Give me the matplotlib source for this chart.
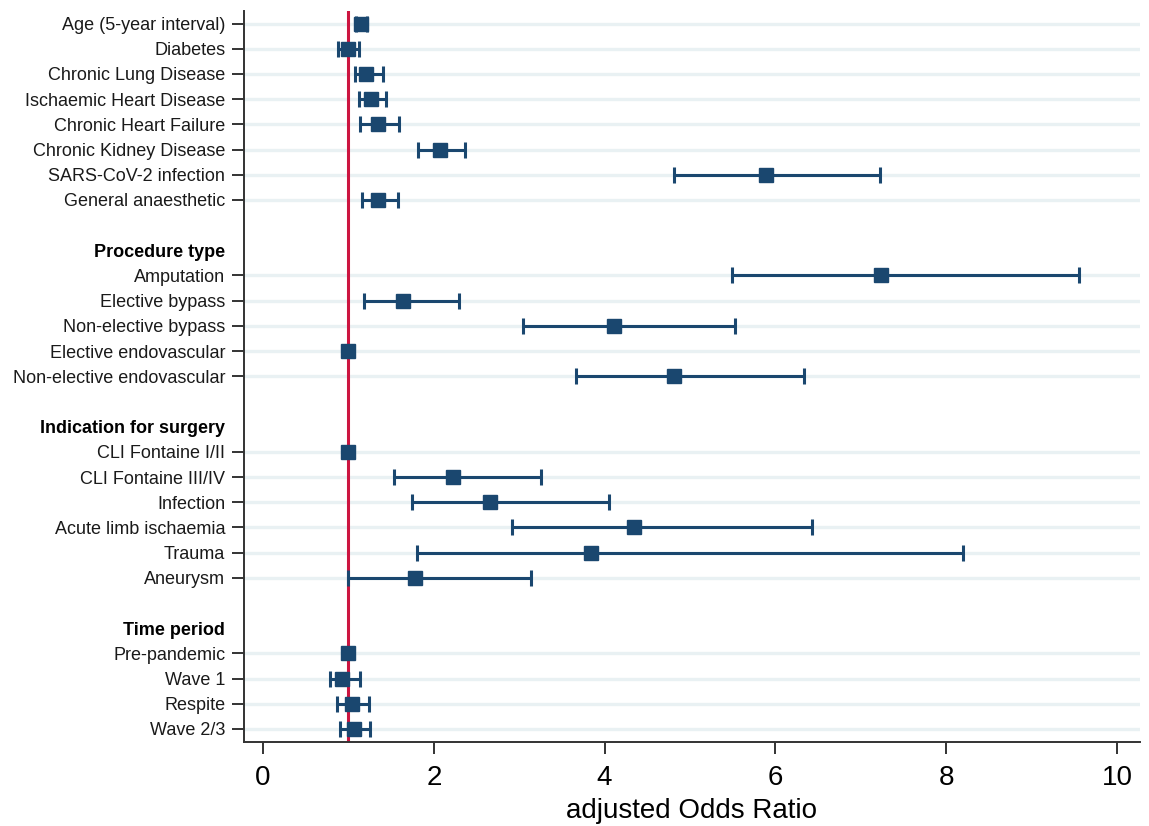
import matplotlib
matplotlib.use("Agg")
import matplotlib.pyplot as plt
import numpy as np

plt.rcParams["font.family"] = ["Liberation Sans", "DejaVu Sans"]

# Row labels, top to bottom; None marks an empty spacer row
labels = [
    "Age (5-year interval)", "Diabetes", "Chronic Lung Disease",
    "Ischaemic Heart Disease", "Chronic Heart Failure", "Chronic Kidney Disease",
    "SARS-CoV-2 infection", "General anaesthetic",
    None,
    "Procedure type",
    "Amputation", "Elective bypass", "Non-elective bypass",
    "Elective endovascular", "Non-elective endovascular",
    None,
    "Indication for surgery",
    "CLI Fontaine I/II", "CLI Fontaine III/IV", "Infection",
    "Acute limb ischaemia", "Trauma", "Aneurysm",
    None,
    "Time period",
    "Pre-pandemic", "Wave 1", "Respite", "Wave 2/3",
]
headers = ["Procedure type", "Indication for surgery", "Time period"]

# Estimates: adjusted odds ratio with 95% CI (NaN CI = reference category)
or_est = [1.15, 0.99, 1.21, 1.27, 1.35, 2.07, 5.89, 1.35,
          7.24, 1.64, 4.11, 1.00, 4.81,
          1.00, 2.23, 2.66, 4.34, 3.84, 1.78,
          1.00, 0.93, 1.04, 1.06]
ci_low = [1.09, 0.88, 1.08, 1.12, 1.13, 1.82, 4.81, 1.16,
          5.49, 1.18, 3.04, np.nan, 3.66,
          np.nan, 1.53, 1.74, 2.92, 1.80, 1.00,
          np.nan, 0.78, 0.87, 0.90]
ci_high = [1.22, 1.12, 1.40, 1.44, 1.59, 2.37, 7.22, 1.58,
           9.55, 2.29, 5.53, np.nan, 6.34,
           np.nan, 3.25, 4.05, 6.43, 8.20, 3.14,
           np.nan, 1.13, 1.24, 1.25]

xticks = [0, 2, 4, 6, 8, 10]

navy = "#1a476f"
red = "#cc1540"
grid_col = "#e9f1f3"

fig = plt.figure(figsize=(11.49, 8.26), dpi=100)
ax = fig.add_axes([244 / 1149, 84 / 826, 896 / 1149, 731 / 826])

data_rows = [i for i, l in enumerate(labels) if l is not None and l not in headers]
est = np.array(or_est)
lo = np.array(ci_low)
hi = np.array(ci_high)
ypos = np.array(data_rows, dtype=float)

# horizontal guide lines on data rows only
for y in ypos:
    ax.axhline(y, color=grid_col, lw=2.4, zorder=0)

ax.axvline(1, color=red, lw=2.2, zorder=1)

has_ci = ~np.isnan(lo)
ax.errorbar(est[has_ci], ypos[has_ci],
            xerr=[est[has_ci] - lo[has_ci], hi[has_ci] - est[has_ci]],
            fmt="none", ecolor=navy, elinewidth=2.2, capsize=5.5, capthick=2.2, zorder=2)
ax.plot(est, ypos, linestyle="none", marker="s", markersize=10.5,
        color=navy, zorder=3)

ax.set_xlim(-0.223, 10.27)
ax.set_ylim(28.52, -0.5)

tick_rows = [i for i, l in enumerate(labels) if l is not None]
ax.set_yticks(tick_rows)
ax.set_yticklabels([labels[i] for i in tick_rows], fontsize=13, color="#1a1a1a")
for t, i in zip(ax.yaxis.get_major_ticks(), tick_rows):
    if labels[i] in headers:
        t.tick1line.set_visible(False)
        t.label1.set_fontweight("bold")
        t.label1.set_color("black")

ax.set_xticks(xticks)
ax.set_xticklabels([str(v) for v in xticks], fontsize=20)
ax.set_xlabel("adjusted Odds Ratio", fontsize=20, labelpad=5)

ax.tick_params(axis="y", length=8.5, width=1.4, color="#333333", pad=5)
ax.tick_params(axis="x", length=8.5, width=1.4, color="#333333", pad=8)

for side in ["top", "right"]:
    ax.spines[side].set_visible(False)
for side in ["left", "bottom"]:
    ax.spines[side].set_color("#333333")
    ax.spines[side].set_linewidth(1.4)

fig.savefig("out.png", dpi=100, facecolor="white")
